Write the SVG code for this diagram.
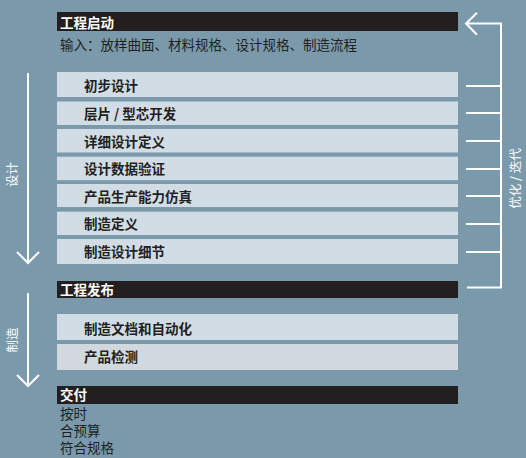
<svg xmlns="http://www.w3.org/2000/svg" width="526" height="458" viewBox="0 0 526 458">
<style>
.bg{fill:#7a9aab}
.dark{fill:#231f20}
.light{fill:#d1dce4}
.t{font-family:"Noto Sans CJK SC","Noto Sans",sans-serif;font-size:13.5px}
.hd{fill:#ffffff;font-weight:bold}
.bx{fill:#231f20;font-weight:bold}
.nt{fill:#231f20}
.wl{fill:#ffffff;font-size:12.5px}
.ln{stroke:#ffffff;stroke-width:2;fill:none}
</style>
<rect class="bg" x="0" y="0" width="526" height="458"/>
<g id="start">
<rect class="dark" x="57" y="12" width="401" height="19"/>
<text class="t hd" x="60" y="27.5">工程启动</text>
<text class="t nt" x="60" y="49.8">输入：放样曲面、材料规格、设计规格、制造流程</text>
</g>
<g id="s1"><rect class="light" x="57" y="72" width="401" height="25"/><text class="t bx" x="84" y="91">初步设计</text></g>
<g id="s2"><rect class="light" x="57" y="101.5" width="401" height="23.5"/><text class="t bx" x="84" y="119">层片 / 型芯开发</text></g>
<g id="s3"><rect class="light" x="57" y="129" width="401" height="23.5"/><text class="t bx" x="84" y="146.5">详细设计定义</text></g>
<g id="s4"><rect class="light" x="57" y="156.7" width="401" height="23.5"/><text class="t bx" x="84" y="174.3">设计数据验证</text></g>
<g id="s5"><rect class="light" x="57" y="184" width="401" height="23"/><text class="t bx" x="84" y="201.5">产品生产能力仿真</text></g>
<g id="s6"><rect class="light" x="57" y="211.7" width="401" height="23.3"/><text class="t bx" x="84" y="229">制造定义</text></g>
<g id="s7"><rect class="light" x="57" y="239" width="401" height="25"/><text class="t bx" x="84" y="257">制造设计细节</text></g>
<g id="release">
<rect class="dark" x="57" y="281" width="401" height="17"/>
<text class="t hd" x="60" y="295.3">工程发布</text>
</g>
<g id="m1"><rect class="light" x="57" y="314" width="401" height="26"/><text class="t bx" x="84" y="334">制造文档和自动化</text></g>
<g id="m2"><rect x="57" y="344" width="401" height="26" fill="#d1d9df"/><text class="t bx" x="84" y="362">产品检测</text></g>
<g id="deliver">
<rect class="dark" x="57" y="386" width="401" height="18"/>
<text class="t hd" x="60" y="400">交付</text>
<text class="t nt" x="60" y="418.8">按时</text>
<text class="t nt" x="60" y="435.5">合预算</text>
<text class="t nt" x="60" y="453">符合规格</text>
</g>
<g id="connectors">
<path class="ln" d="M28 73V263M17 252L28 263L39 252"/>
<path class="ln" d="M28 293V386M17 375L28 386L39 375"/>
<path class="ln" d="M477 12.7L466 23.5L477 34.7M466 23.5H501V287.5H467"/>
<path class="ln" d="M466 86H501M466 113H501M466 141H501M466 169H501M466 196H501M466 224H501M466 252H501"/>
<text class="t wl" transform="translate(17,174.5) rotate(-90)" text-anchor="middle">设计</text>
<text class="t wl" transform="translate(17,340) rotate(-90)" text-anchor="middle">制造</text>
<text class="t wl" transform="translate(519.5,178.5) rotate(-90)" text-anchor="middle">优化 / 迭代</text>
</g>
</svg>
